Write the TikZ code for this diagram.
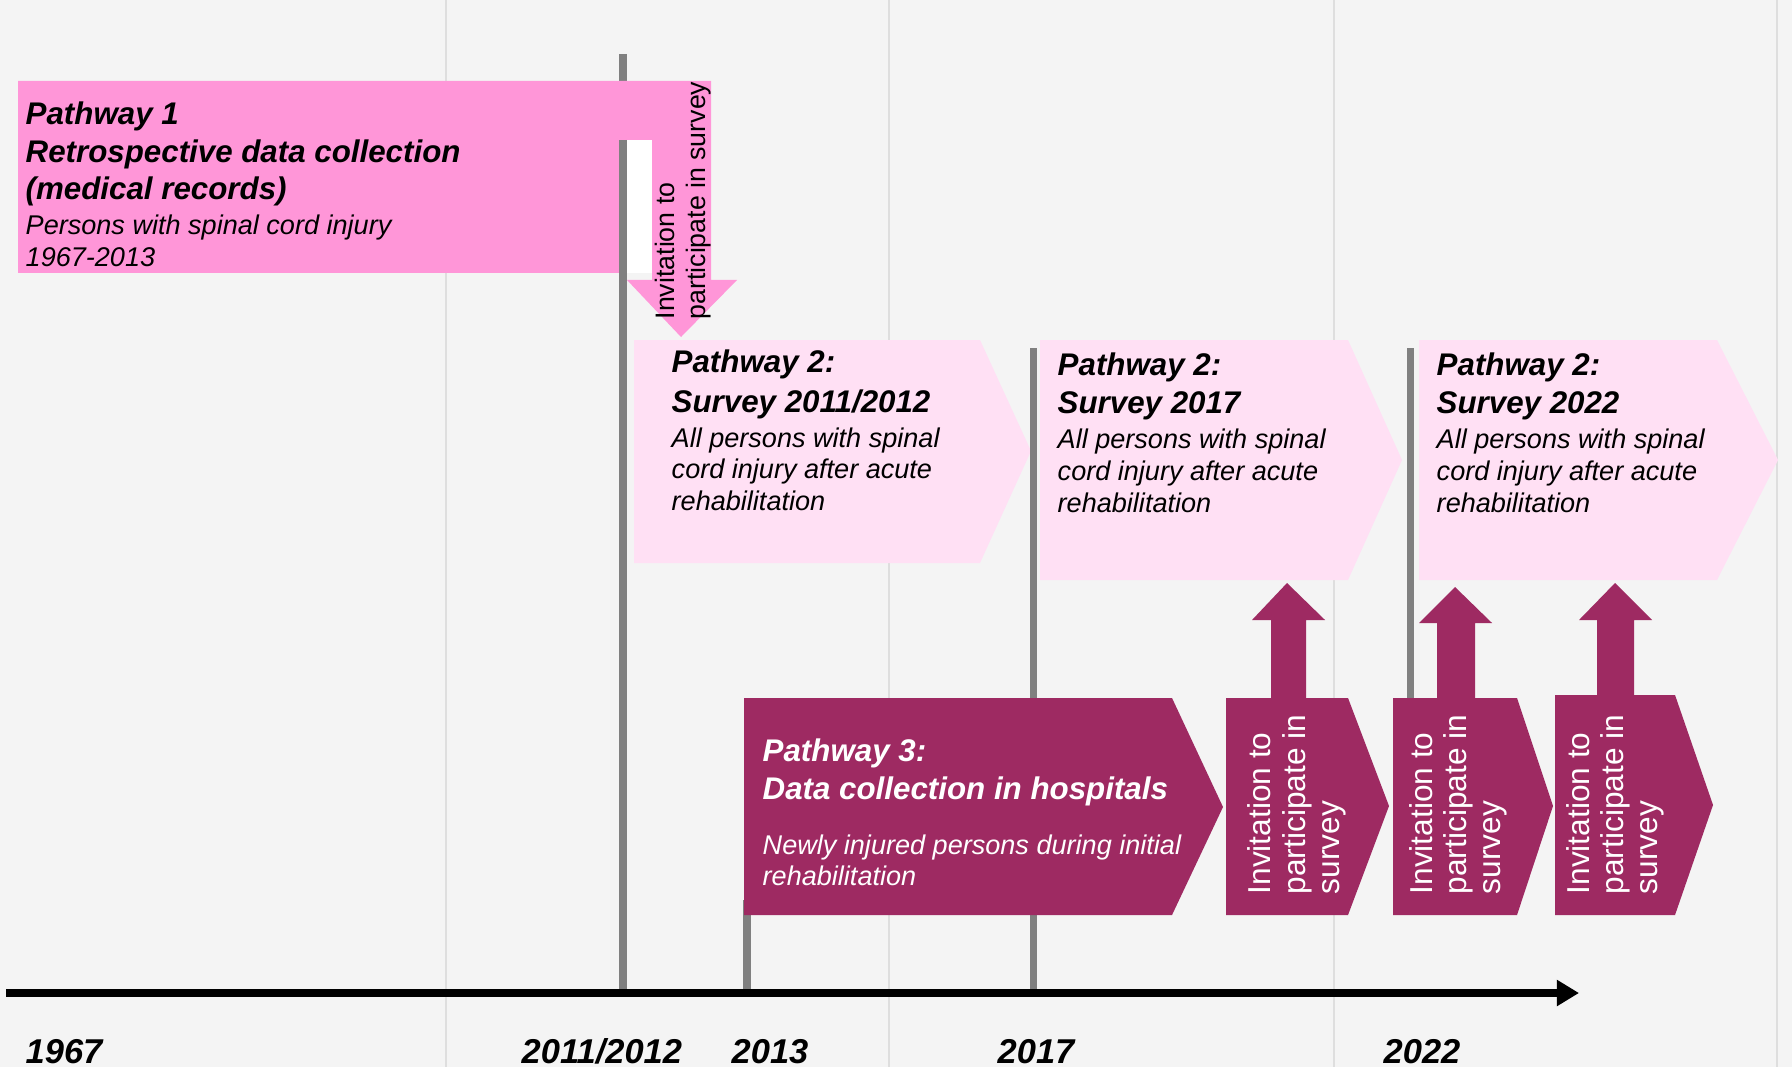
\documentclass[tikz,border=0pt]{standalone}
\usepackage{fontspec}
\setmainfont{Liberation Sans}
\usetikzlibrary{arrows.meta}
\definecolor{bg}{RGB}{244,244,244}
\definecolor{gridc}{RGB}{222,222,222}
\definecolor{vline}{RGB}{128,128,128}
\definecolor{pinkA}{RGB}{255,150,216}
\definecolor{pinkL}{RGB}{255,224,244}
\definecolor{mag}{RGB}{158,42,98}
\begin{document}
\begin{tikzpicture}[x=0.01cm,y=-0.01cm,
  hd/.style={font=\fontsize{8.9}{10}\selectfont\bfseries\itshape, inner sep=0pt, anchor=base west},
  ds/.style={font=\fontsize{7.7}{9}\selectfont\itshape, inner sep=0pt, anchor=base west},
  yr/.style={font=\fontsize{9.8}{11}\selectfont\bfseries\itshape, inner sep=0pt, anchor=base west},
  invA/.style={font=\fontsize{7.6}{9}\selectfont, inner sep=0pt, anchor=base west, rotate=90},
  invB/.style={font=\fontsize{9}{10}\selectfont, inner sep=0pt, anchor=base west, rotate=90, text=white},
  gline/.style={draw=vline, line width=2pt},
  faint/.style={draw=gridc, line width=0.5pt},
  axis/.style={line width=2.3pt, -{Triangle[length=6.3pt,width=7.1pt]}},
]
\useasboundingbox (0,0) rectangle (1792,1067);
\fill[bg] (0,0) rectangle (1792,1067);
\foreach \x in {446,889,1334,1777} \draw[faint] (\x,0) -- (\x,1067);

% marker coordinates
\coordinate (m1a) at (623,54);
\coordinate (m1b) at (623,140);
\coordinate (m1c) at (623,993);
\coordinate (m2a) at (747,900);
\coordinate (m2b) at (747,993);
\coordinate (m3a) at (1033,348);
\coordinate (m3b) at (1033,993);
\coordinate (m4a) at (1410,348);
\coordinate (m4b) at (1410,760);
\coordinate (axL) at (6,993);
\coordinate (axR) at (1579,993);

\draw[gline] (m1a) -- (m1c);

% Pathway 1 bent arrow
\fill[pinkA] (18,81) -- (711,81) -- (711,280) -- (737,280) -- (681,337) -- (627,280)
  -- (652,280) -- (652,140) -- (623,140) -- (623,273) -- (18,273) -- cycle;
\fill[white] (627,140) rectangle (652,273);
\draw[gline] (m1b) -- (m1c);

% Pathway 2 chevrons
\fill[pinkL] (634,340) -- (980,340) -- (1031,451) -- (980,563) -- (634,563) -- cycle;
\fill[pinkL] (1040,340) -- (1348,340) -- (1402,460) -- (1348,580) -- (1040,580) -- cycle;
\fill[pinkL] (1419,340) -- (1717,340) -- (1778,460) -- (1717,580) -- (1419,580) -- cycle;

\draw[gline] (m2a) -- (m2b);
\draw[gline] (m3a) -- (m3b);
\draw[gline] (m4a) -- (m4b);

% Pathway 3 and invitation chevrons
\fill[mag] (744,698) -- (1172,698) -- (1223,807) -- (1172,915) -- (744,915) -- cycle;
\fill[mag] (1226,698) -- (1271,698) -- (1271,620) -- (1252,620) -- (1287,583) -- (1325,620)
  -- (1306,620) -- (1306,698) -- (1348,698) -- (1389,806) -- (1348,915) -- (1226,915) -- cycle;
\fill[mag] (1393,698) -- (1437,698) -- (1437,623) -- (1419,623) -- (1455,587) -- (1492,623)
  -- (1475,623) -- (1475,698) -- (1517,698) -- (1553,806) -- (1517,915) -- (1393,915) -- cycle;
\fill[mag] (1555,695) -- (1597,695) -- (1597,620) -- (1579,620) -- (1615,583) -- (1652,620)
  -- (1634,620) -- (1634,695) -- (1675,695) -- (1713,805) -- (1675,915) -- (1555,915) -- cycle;

% timeline
\draw[axis] (axL) -- (axR);

% Pathway 1 texts
\node[hd] (p1a) at (25,125) {Pathway 1};
\node[hd] (p1b) at (25,163) {Retrospective data collection};
\node[hd] (p1c) at (25,200) {(medical records)};
\node[ds] (p1d) at (25,235) {Persons with spinal cord injury};
\node[ds] (p1e) at (25,267) {1967-2013};
\node[invA] (p1f) at (674,320) {Invitation to};
\node[invA] (p1g) at (705,320) {participate in survey};

% Pathway 2 texts
\node[hd] (a1) at (671,373) {Pathway 2:};
\node[hd] (a2) at (671,412) {Survey 2011/2012};
\node[ds] (a3) at (671,447) {All persons with spinal};
\node[ds] (a4) at (671,478) {cord injury after acute};
\node[ds] (a5) at (671,510) {rehabilitation};

\node[hd] (b1) at (1057,375) {Pathway 2:};
\node[hd] (b2) at (1057,413) {Survey 2017};
\node[ds] (b3) at (1057,448) {All persons with spinal};
\node[ds] (b4) at (1057,480) {cord injury after acute};
\node[ds] (b5) at (1057,512) {rehabilitation};

\node[hd] (c1) at (1436,375) {Pathway 2:};
\node[hd] (c2) at (1436,413) {Survey 2022};
\node[ds] (c3) at (1436,448) {All persons with spinal};
\node[ds] (c4) at (1436,480) {cord injury after acute};
\node[ds] (c5) at (1436,512) {rehabilitation};

% Pathway 3 texts
\node[hd, text=white] (d1) at (762,761) {Pathway 3:};
\node[hd, text=white] (d2) at (762,799) {Data collection in hospitals};
\node[ds, text=white] (d3) at (762,854) {Newly injured persons during initial};
\node[ds, text=white] (d4) at (762,885) {rehabilitation};

% invitation texts
\node[invB] (i1a) at (1270,895) {Invitation to};
\node[invB] (i1b) at (1305,895) {participate in};
\node[invB] (i1c) at (1339,895) {survey};
\node[invB] (i2a) at (1432,895) {Invitation to};
\node[invB] (i2b) at (1466,895) {participate in};
\node[invB] (i2c) at (1500,895) {survey};
\node[invB] (i3a) at (1589,895) {Invitation to};
\node[invB] (i3b) at (1623,895) {participate in};
\node[invB] (i3c) at (1657,895) {survey};

% year labels
\node[yr] (y1) at (25,1063) {1967};
\node[yr] (y2) at (521,1063) {2011/2012};
\node[yr] (y3) at (731,1063) {2013};
\node[yr] (y4) at (997,1063) {2017};
\node[yr] (y5) at (1383,1063) {2022};
\end{tikzpicture}
\end{document}
